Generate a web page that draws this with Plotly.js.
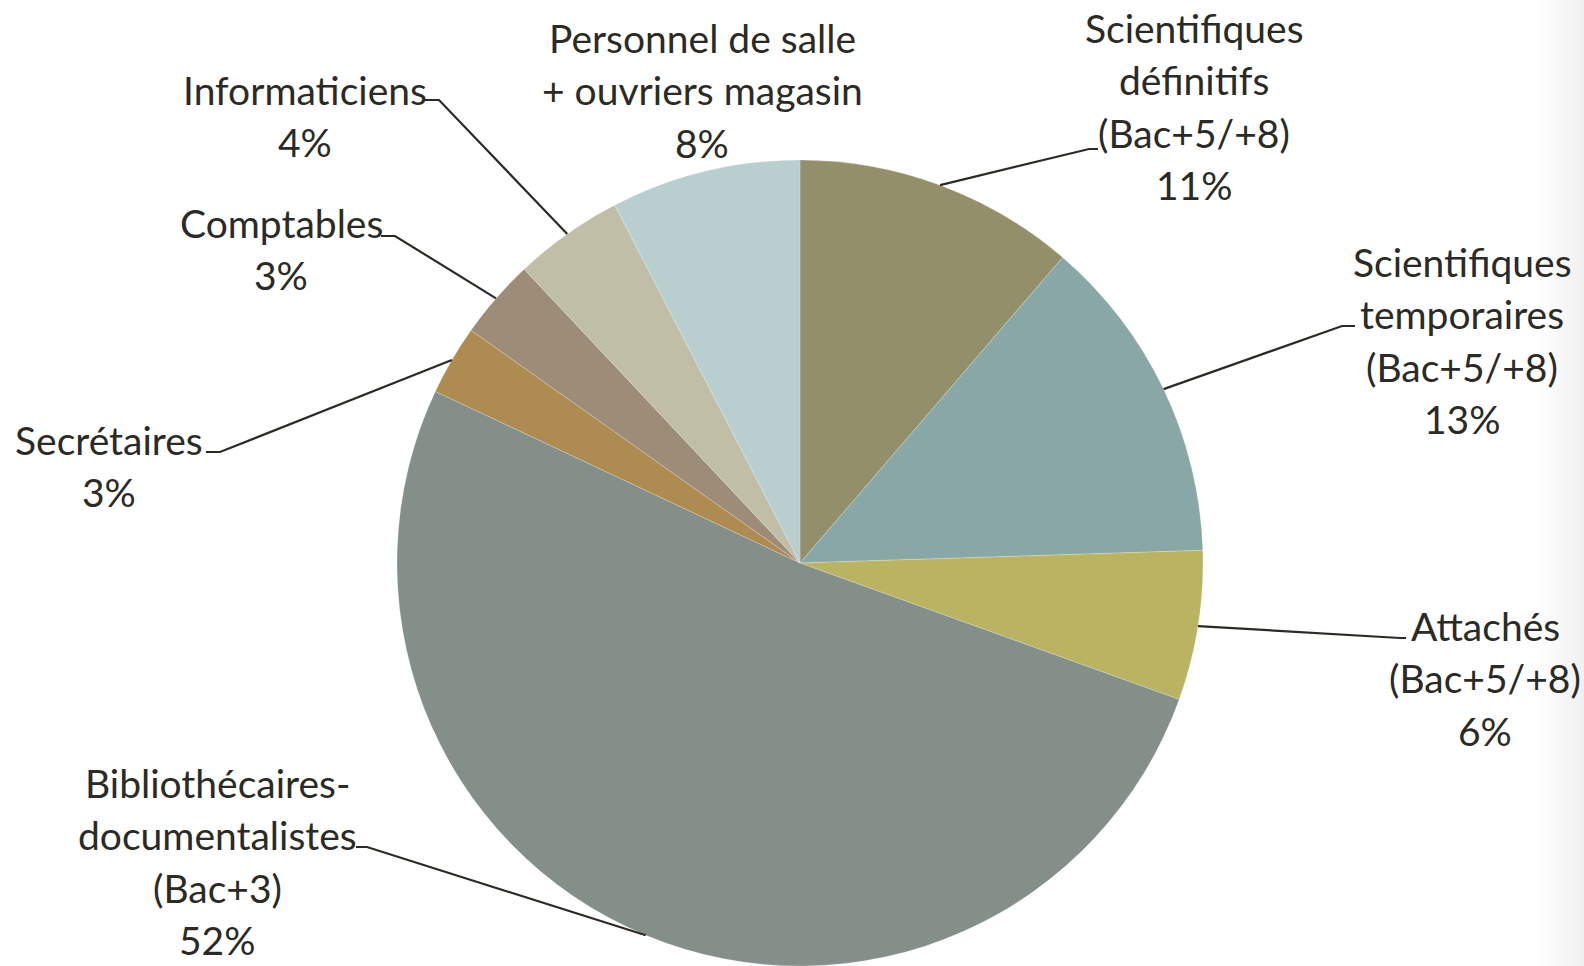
<!DOCTYPE html>
<html>
<head>
<meta charset="utf-8">
<script src="https://cdn.plot.ly/plotly-3.0.1.min.js"></script>
<style>
  html, body { margin: 0; padding: 0; width: 1584px; height: 966px; overflow: hidden;
    background: linear-gradient(to right, #ffffff 0%, #ffffff 97%, #f0f0f0 100%); }
  #chart { width: 1584px; height: 966px; }
</style>
</head>
<body>
<div id="chart"></div>
<script>
// ---- Data (clockwise from 12 o'clock) ----
const categories = [
  "Scientifiques définitifs (Bac+5/+8)",
  "Scientifiques temporaires (Bac+5/+8)",
  "Attachés (Bac+5/+8)",
  "Bibliothécaires-documentalistes (Bac+3)",
  "Secrétaires",
  "Comptables",
  "Informaticiens",
  "Personnel de salle + ouvriers magasin"
];
const values = [11.3, 13.2, 6.0, 51.5, 2.8, 3.2, 4.4, 7.6];
const pctLabels = ["11%", "13%", "6%", "52%", "3%", "3%", "4%", "8%"];
const labelLines = [
  ["Scientifiques", "définitifs", "(Bac+5/+8)"],
  ["Scientifiques", "temporaires", "(Bac+5/+8)"],
  ["Attachés", "(Bac+5/+8)"],
  ["Bibliothécaires-", "documentalistes", "(Bac+3)"],
  ["Secrétaires"],
  ["Comptables"],
  ["Informaticiens"],
  ["Personnel de salle", "+ ouvriers magasin"]
];
const colors = ["#948F6B", "#8AA7A7", "#BAB462", "#848F89", "#AE8B50", "#9C8C78", "#C1BEA7", "#B8CECF"];

// ---- Layout helpers (pixel geometry) ----
const W = 1584, H = 966;
const cx = 800, cy = 563, R = 403;
const px = x => x / W;
const py = y => 1 - y / H;

// label block: center x, first line y
const labelPos = [
  {x: 1194, y: 28},
  {x: 1462, y: 262},
  {x: 1485, y: 626},
  {x: 217,  y: 783},
  {x: 109,  y: 440},
  {x: 281,  y: 223},
  {x: 305,  y: 90},
  {x: 702,  y: 38}
];
const lineStep = 52.3;
// leader elbows: [elbowX, elbowY, endX] (horizontal tick near the text)
const elbows = [
  [1089, 149, 1098],
  [1342, 326, 1355],
  [1400, 638, 1406],
  [367, 847, 356],
  [220, 452, 206],
  [395, 236, 381],
  [439, 100, 425],
  null
];

const total = values.reduce((a, b) => a + b, 0);
const annotations = [];
const shapes = [];
let cum = 0;
values.forEach((v, i) => {
  const mid = (cum + v / 2) / total * 2 * Math.PI;
  cum += v;
  const lines = labelLines[i].concat([pctLabels[i]]);
  lines.forEach((t, k) => {
    annotations.push({
      text: t, showarrow: false, xref: "paper", yref: "paper",
      x: px(labelPos[i].x), y: py(labelPos[i].y + k * lineStep),
      xanchor: "center", yanchor: "middle",
      font: {family: "Lato, 'Open Sans', sans-serif", size: 39, color: "#2B2A24"}
    });
  });
  const e = elbows[i];
  if (e) {
    const ex = cx + R * Math.sin(mid), ey = cy - R * Math.cos(mid);
    shapes.push({
      type: "path", xref: "paper", yref: "paper",
      path: `M ${px(ex)} ${py(ey)} L ${px(e[0])} ${py(e[1])} L ${px(e[2])} ${py(e[1])}`,
      line: {color: "#2B2A24", width: 2.2}
    });
  }
});

const trace = {
  type: "pie",
  labels: categories,
  values: values,
  sort: false,
  direction: "clockwise",
  rotation: 0,
  textinfo: "none",
  hoverinfo: "label+percent",
  marker: {colors: colors, line: {color: "rgba(255,255,255,0.35)", width: 0.6}},
  domain: {x: [px(cx - R), px(cx + R)], y: [py(cy + R), py(cy - R)]},
  showlegend: false
};

const layout = {
  width: W, height: H,
  margin: {l: 0, r: 0, t: 0, b: 0},
  paper_bgcolor: "rgba(0,0,0,0)",
  plot_bgcolor: "rgba(0,0,0,0)",
  showlegend: false,
  annotations: annotations,
  shapes: shapes
};

Plotly.newPlot("chart", [trace], layout, {displayModeBar: false, staticPlot: true});
</script>
</body>
</html>
